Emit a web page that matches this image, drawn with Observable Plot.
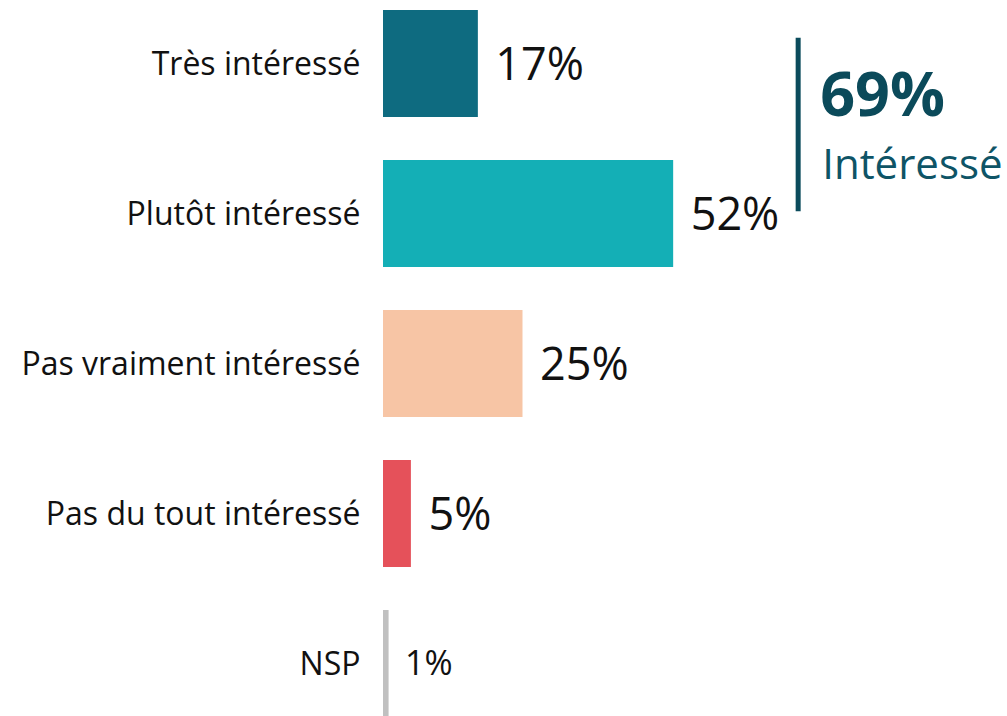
<!DOCTYPE html>
<html>
<head>
<meta charset="utf-8">
<script src="https://cdn.jsdelivr.net/npm/d3@7"></script>
<script src="https://cdn.jsdelivr.net/npm/@observablehq/plot@0.6"></script>
<style>
  html, body { margin: 0; padding: 0; background: #fff; }
  #chart svg { display: block; }
</style>
</head>
<body>
<div id="chart"></div>
<script>
const categories = ["Très intéressé", "Plutôt intéressé", "Pas vraiment intéressé", "Pas du tout intéressé", "NSP"];
const values = [17, 52, 25, 5, 1];
const colors = ["#0E6B80", "#14AFB6", "#F7C5A5", "#E5515A", "#C0C0C0"];
const valueLabels = ["17%", "52%", "25%", "5%", "1%"];
const bracketCategories = ["Très intéressé", "Plutôt intéressé"];
const bracketTotal = "69%";
const bracketLabel = "Intéressé";

const data = categories.map((c, i) => ({cat: c, value: values[i], color: colors[i], label: valueLabels[i], small: i === 4}));

const font = "'Open Sans', 'Noto Sans', sans-serif";

const plot = Plot.plot({
  width: 1007,
  height: 716,
  marginLeft: 383,
  marginRight: 66,
  marginTop: 0,
  marginBottom: 0,
  style: {fontFamily: font, background: "#fff"},
  x: {domain: [0, 100], axis: null},
  y: {domain: categories, range: [0, 727], paddingInner: 0.287, paddingOuter: 0.0667, axis: null},
  marks: [
    Plot.barX(data, {x: "value", y: "cat", fill: "color"}),
    Plot.text(data, {x: 0, y: "cat", text: "cat", textAnchor: "end", dx: -23, dy: 1, fontSize: 32, fill: "#111"}),
    Plot.text(data.filter(d => !d.small), {x: "value", y: "cat", text: "label", textAnchor: "start", dx: 17, dy: 2, fontSize: 45, fill: "#111"}),
    Plot.text(data.filter(d => d.small), {x: "value", y: "cat", text: "label", textAnchor: "start", dx: 16, fontSize: 34, fill: "#111"})
  ]
});

document.getElementById("chart").appendChild(plot);

// Bracket annotation positioned from the library's scales
const yScale = plot.scale("y");
const xScale = plot.scale("x");
const bw = yScale.bandwidth;
const bTop = yScale.apply(bracketCategories[0]) + bw * 0.26;
const bBottom = yScale.apply(bracketCategories[1]) + bw * 0.48;
const xLine = xScale.apply(values[1]) + 125;
const g = d3.select(plot).append("g").attr("text-anchor", "start");
g.append("line")
  .attr("x1", xLine).attr("x2", xLine)
  .attr("y1", bTop).attr("y2", bBottom)
  .attr("stroke", "#0B4B5C").attr("stroke-width", 5);
g.append("text")
  .attr("x", xLine + 22).attr("y", bTop + 78)
  .attr("text-anchor", "start")
  .attr("font-family", font).attr("font-weight", 700).attr("font-size", 61)
  .attr("fill", "#0B4A5A").text(bracketTotal);
g.append("text")
  .attr("x", xLine + 24).attr("y", bTop + 141)
  .attr("text-anchor", "start")
  .attr("font-family", font).attr("font-size", 42)
  .attr("fill", "#0E5466").text(bracketLabel);
</script>
</body>
</html>
